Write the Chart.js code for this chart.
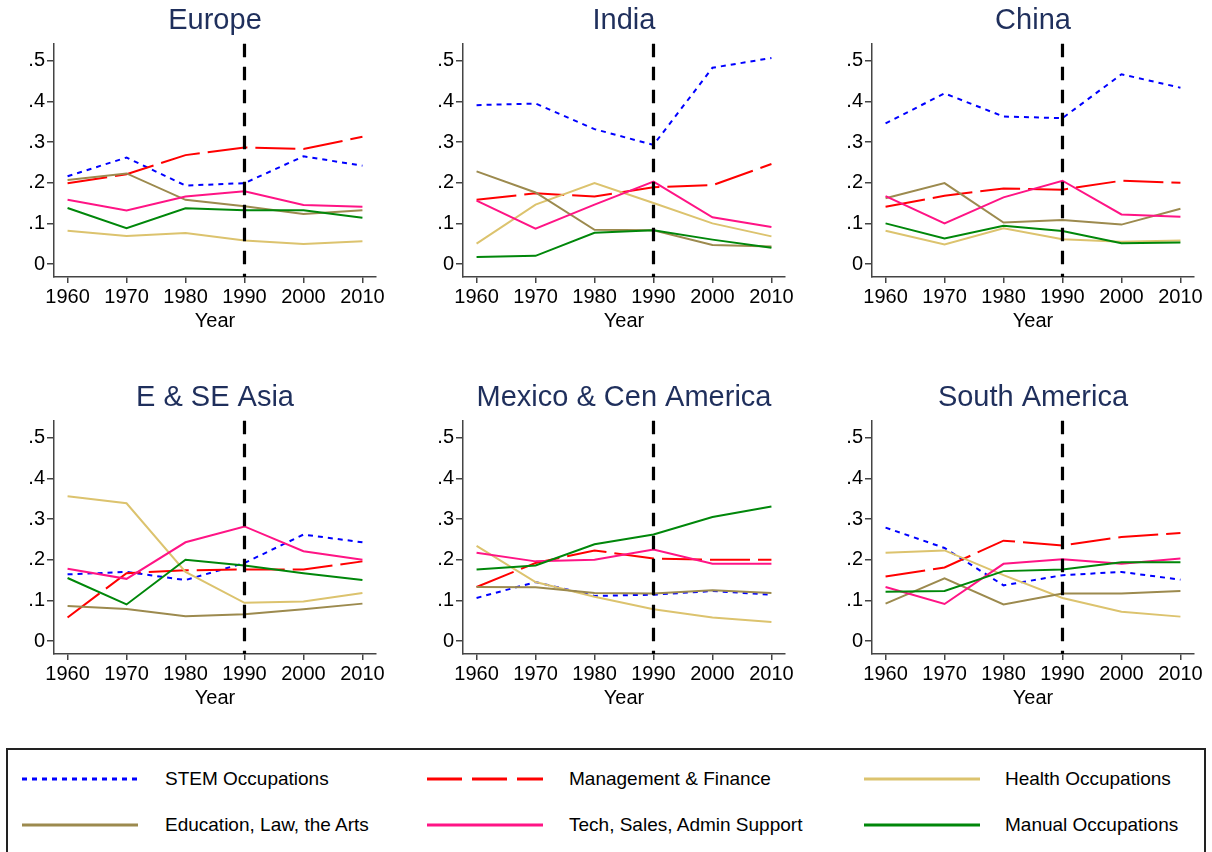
<!DOCTYPE html>
<html>
<head>
<meta charset="utf-8">
<script src="https://cdn.jsdelivr.net/npm/chart.js@4.4.0/dist/chart.umd.min.js"></script>
<style>
  body { margin: 0; background: #fff; overflow: hidden; font-family: Arial, "Liberation Sans", sans-serif; }
  #wrap { position: relative; width: 1212px; height: 852px; }
  canvas { position: absolute; }
  #legend { position: absolute; left: 6px; top: 748px; width: 1200px; height: 120px; border: 2px solid #222; box-sizing: border-box; }
  .key { position: absolute; line-height: 0; }
  .key svg { display: block; }
  .lab { position: absolute; font-size: 19px; line-height: 24px; color: #000; white-space: nowrap; }
</style>
</head>
<body>
<div id="wrap">
  <div id="legend"></div>
</div>
<script>
// Chart values
const years = [1960, 1970, 1980, 1990, 2000, 2010];
const regions = ['Europe', 'India', 'China', 'E & SE Asia', 'Mexico & Cen America', 'South America'];
const yTicks = [0, 0.1, 0.2, 0.3, 0.4, 0.5];
const cutYear = 1990;
const seriesNames = ['STEM Occupations', 'Management & Finance', 'Health Occupations',
  'Education, Law, the Arts', 'Tech, Sales, Admin Support', 'Manual Occupations'];

// one row per region, same order as regions
const stem = [
  [0.216, 0.262, 0.193, 0.199, 0.265, 0.242],
  [0.391, 0.395, 0.332, 0.293, 0.483, 0.507],
  [0.346, 0.420, 0.363, 0.359, 0.467, 0.434],
  [0.164, 0.170, 0.150, 0.192, 0.262, 0.243],
  [0.106, 0.145, 0.111, 0.114, 0.123, 0.114],
  [0.279, 0.229, 0.137, 0.162, 0.170, 0.151]
];
const mgmt = [
  [0.199, 0.221, 0.268, 0.287, 0.283, 0.313],
  [0.158, 0.174, 0.166, 0.189, 0.194, 0.246],
  [0.141, 0.168, 0.186, 0.183, 0.205, 0.200],
  [0.058, 0.167, 0.174, 0.176, 0.176, 0.196],
  [0.133, 0.192, 0.223, 0.203, 0.200, 0.200],
  [0.159, 0.181, 0.247, 0.235, 0.256, 0.266]
];
const health = [
  [0.082, 0.069, 0.076, 0.058, 0.049, 0.056],
  [0.050, 0.146, 0.199, 0.150, 0.100, 0.068],
  [0.082, 0.048, 0.088, 0.061, 0.055, 0.058],
  [0.356, 0.339, 0.170, 0.094, 0.097, 0.118],
  [0.234, 0.145, 0.109, 0.078, 0.058, 0.047],
  [0.217, 0.223, 0.162, 0.106, 0.072, 0.060]
];
const educ = [
  [0.207, 0.223, 0.158, 0.142, 0.123, 0.132],
  [0.228, 0.176, 0.084, 0.083, 0.047, 0.043],
  [0.162, 0.199, 0.102, 0.108, 0.097, 0.136],
  [0.086, 0.079, 0.061, 0.066, 0.078, 0.092],
  [0.133, 0.132, 0.118, 0.117, 0.125, 0.118],
  [0.092, 0.154, 0.090, 0.117, 0.117, 0.123]
];
const tech = [
  [0.158, 0.132, 0.166, 0.179, 0.145, 0.141],
  [0.156, 0.087, 0.146, 0.203, 0.115, 0.091],
  [0.167, 0.100, 0.164, 0.205, 0.122, 0.116],
  [0.178, 0.153, 0.243, 0.282, 0.221, 0.200],
  [0.217, 0.196, 0.200, 0.225, 0.190, 0.190],
  [0.133, 0.091, 0.190, 0.201, 0.190, 0.203]
];
const manual = [
  [0.138, 0.088, 0.137, 0.132, 0.132, 0.114],
  [0.017, 0.020, 0.077, 0.083, 0.060, 0.040],
  [0.100, 0.063, 0.094, 0.081, 0.051, 0.053],
  [0.155, 0.090, 0.200, 0.186, 0.167, 0.150],
  [0.176, 0.186, 0.238, 0.262, 0.305, 0.331],
  [0.121, 0.123, 0.172, 0.176, 0.194, 0.194]
];

// styles
const series = [stem, mgmt, health, educ, tech, manual];
const colors = ['#0000ff', '#ff0000', '#dcc36e', '#9c8a4e', '#ff1485', '#00870a'];
const dashes = [[5, 5], [40, 8], [], [], [], []];
const legendDashes = ['5 5', '35 10', '', '', '', ''];
const fontFam = 'Arial, "Liberation Sans", sans-serif';
const titleColor = '#1f2f5c';
const axisColor = '#444';

// vertical dashed line at the cut year
const cutLine = {
  id: 'cutLine',
  afterDatasetsDraw(chart) {
    const { ctx, chartArea, scales } = chart;
    const x = scales.x.getPixelForValue(cutYear);
    ctx.save();
    ctx.strokeStyle = '#000';
    ctx.lineWidth = 3.2;
    ctx.setLineDash([13.5, 9.5]);
    ctx.beginPath();
    ctx.moveTo(x, chartArea.top);
    ctx.lineTo(x, chartArea.bottom);
    ctx.stroke();
    ctx.restore();
  }
};

const wrap = document.getElementById('wrap');
const panelLeft = [0, 409, 818];
const panelTop = [1, 378];

regions.forEach((name, r) => {
  const cv = document.createElement('canvas');
  cv.width = 394;
  cv.height = 340;
  cv.style.left = panelLeft[r % 3] + 'px';
  cv.style.top = panelTop[Math.floor(r / 3)] + 'px';
  wrap.appendChild(cv);

  const datasets = series.map((s, i) => ({
    label: seriesNames[i],
    data: years.map((yr, k) => ({ x: yr, y: s[r][k] })),
    borderColor: colors[i],
    borderWidth: 2,
    borderDash: dashes[i],
    pointRadius: 0,
    tension: 0,
    fill: false,
    order: 5 - i
  }));

  new Chart(cv, {
    type: 'line',
    data: { datasets },
    plugins: [cutLine],
    options: {
      responsive: false,
      animation: false,
      devicePixelRatio: 1,
      events: [],
      layout: { padding: { left: 0, right: 18, top: 0, bottom: 10 } },
      plugins: {
        legend: { display: false },
        tooltip: { enabled: false },
        title: {
          display: true,
          text: name,
          color: titleColor,
          fullSize: false,
          font: { family: fontFam, size: 29, weight: 'normal' },
          padding: { top: 3, bottom: 5 }
        }
      },
      scales: {
        x: {
          type: 'linear',
          min: 1957.7,
          max: 2012.3,
          afterBuildTicks: s => { s.ticks = years.map(v => ({ value: v })); },
          ticks: {
            color: '#000',
            padding: 4,
            font: { family: fontFam, size: 20, lineHeight: 1 },
            callback: v => String(v)
          },
          grid: { display: true, drawOnChartArea: false, drawTicks: true, tickLength: 6, color: axisColor, lineWidth: 1.5 },
          border: { display: true, color: axisColor, width: 1.5 },
          title: {
            display: true,
            text: 'Year',
            color: '#000',
            font: { family: fontFam, size: 20, lineHeight: 1 },
            padding: { top: 0, bottom: 0 }
          }
        },
        y: {
          min: -0.032,
          max: 0.542,
          afterBuildTicks: s => { s.ticks = yTicks.map(v => ({ value: v })); },
          afterFit: s => { s.width = 54; },
          ticks: {
            color: '#000',
            padding: 2,
            font: { family: fontFam, size: 20 },
            callback: v => v === 0 ? '0' : v.toFixed(1).replace(/^0/, '')
          },
          grid: { display: true, drawOnChartArea: false, drawTicks: true, tickLength: 7, color: axisColor, lineWidth: 1.5 },
          border: { display: true, color: axisColor, width: 1.5 }
        }
      }
    }
  });
});

// legend below the panels
const legend = document.getElementById('legend');
const keyX = [14, 419, 856];
const labX = [157, 561, 997];
const rowY = [29, 75];
seriesNames.forEach((name, i) => {
  const col = i % 3, row = Math.floor(i / 3);
  const key = document.createElement('div');
  key.className = 'key';
  key.style.left = keyX[col] + 'px';
  key.style.top = (rowY[row] - 3) + 'px';
  key.innerHTML = '<svg width="116" height="6"><line x1="0" y1="3" x2="116" y2="3" stroke="' + colors[i] +
    '" stroke-width="3"' + (legendDashes[i] ? ' stroke-dasharray="' + legendDashes[i] + '"' : '') + '/></svg>';
  legend.appendChild(key);
  const lab = document.createElement('div');
  lab.className = 'lab';
  lab.style.left = labX[col] + 'px';
  lab.style.top = (rowY[row] - 12) + 'px';
  lab.textContent = name;
  legend.appendChild(lab);
});
</script>
</body>
</html>
